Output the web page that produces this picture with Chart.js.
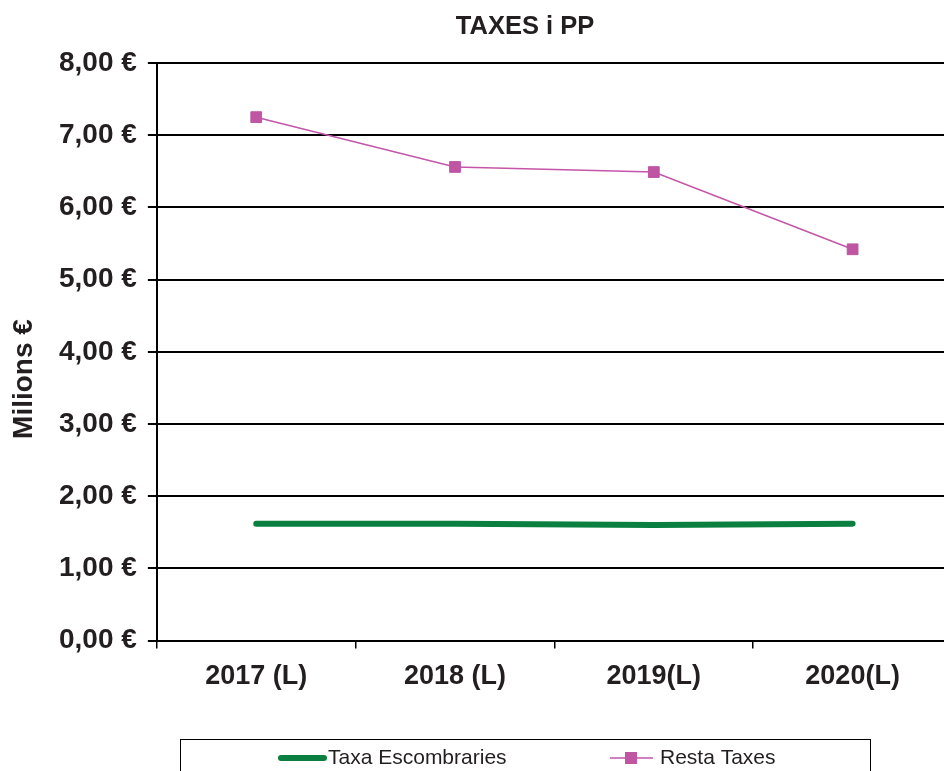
<!DOCTYPE html>
<html>
<head>
<meta charset="utf-8">
<script src="https://cdn.jsdelivr.net/npm/chart.js@4"></script>
<style>
html,body{margin:0;padding:0;overflow:hidden;background:#fff;}
#wrap{position:absolute;left:0;top:0;width:962px;height:771px;}
</style>
</head>
<body>
<div id="wrap"><canvas id="c"></canvas></div>
<script>
const categories = ['2017 (L)', '2018 (L)', '2019(L)', '2020(L)'];
const taxaEscombraries = [1.62, 1.62, 1.60, 1.62];
const restaTaxes = [7.25, 6.56, 6.49, 5.42];
const yTicks = [0, 1, 2, 3, 4, 5, 6, 7, 8];
const chartTitle = 'TAXES i PP';
const yTitle = 'Milions €';

const FONT = '"Liberation Sans", Arial, sans-serif';

const titleLegendPlugin = {
  id: 'titleLegend',
  afterDraw(chart) {
    const ctx = chart.ctx;
    ctx.save();
    // title
    ctx.fillStyle = '#231f20';
    ctx.font = 'bold 25.5px ' + FONT;
    ctx.textAlign = 'center';
    ctx.textBaseline = 'middle';
    ctx.fillText(chartTitle, 525, 27);
    // y axis title
    ctx.save();
    ctx.translate(24, 379);
    ctx.rotate(-Math.PI / 2);
    ctx.font = 'bold 28px ' + FONT;
    ctx.fillText(yTitle, 0, 0);
    ctx.restore();
    // legend box
    const bx = 180.5, by = 739.5, bw = 690, bh = 60;
    ctx.strokeStyle = '#000';
    ctx.lineWidth = 1;
    ctx.strokeRect(bx, by, bw, bh);
    ctx.font = '21px ' + FONT;
    ctx.textAlign = 'left';
    ctx.fillStyle = '#231f20';
    const ly = 758;
    // item 1
    const ds0 = chart.data.datasets[0];
    ctx.strokeStyle = ds0.borderColor;
    ctx.lineWidth = 6;
    ctx.lineCap = 'round';
    ctx.beginPath(); ctx.moveTo(281, ly); ctx.lineTo(324, ly); ctx.stroke();
    ctx.fillText(ds0.label, 328, ly);
    // item 2
    const ds1 = chart.data.datasets[1];
    ctx.strokeStyle = ds1.borderColor;
    ctx.lineWidth = 1.5;
    ctx.lineCap = 'butt';
    ctx.beginPath(); ctx.moveTo(610, ly); ctx.lineTo(653, ly); ctx.stroke();
    ctx.fillStyle = ds1.pointBackgroundColor;
    ctx.fillRect(625, ly - 6, 12, 12);
    ctx.fillStyle = '#231f20';
    ctx.fillText(ds1.label, 660, ly);
    ctx.restore();
  }
};

new Chart(document.getElementById('c'), {
  type: 'line',
  data: {
    labels: categories,
    datasets: [
      {
        label: 'Taxa Escombraries',
        data: taxaEscombraries,
        borderColor: '#0a7f3f',
        backgroundColor: '#0a7f3f',
        borderWidth: 6,
        pointRadius: 0,
        borderCapStyle: 'round',
        tension: 0
      },
      {
        label: 'Resta Taxes',
        data: restaTaxes,
        borderColor: '#c455a8',
        backgroundColor: '#c455a8',
        pointBackgroundColor: '#bf55a3',
        pointBorderColor: '#bf55a3',
        borderWidth: 1.5,
        pointBorderWidth: 1,
        pointStyle: 'rect',
        pointRadius: 7.6,
        tension: 0
      }
    ]
  },
  options: {
    responsive: true,
    maintainAspectRatio: false,
    animation: false,
    layout: { padding: { top: 63, bottom: 66, left: 48, right: 10 } },
    plugins: {
      legend: { display: false },
      title: { display: false },
      tooltip: { enabled: false }
    },
    scales: {
      x: {
        offset: true,
        grid: { offset: true, drawOnChartArea: false, drawTicks: true, tickLength: 8, color: '#000', lineWidth: 1.5 },
        border: { display: true, color: '#000', width: 2 },
        ticks: { color: '#231f20', font: { family: FONT, size: 27, weight: 'bold' }, padding: 12 }
      },
      y: {
        min: 0, max: 8,
        afterBuildTicks(axis) { axis.ticks = yTicks.map(v => ({ value: v })); },
        grid: { color: '#000', lineWidth: 2, drawTicks: true, tickLength: 9 },
        border: { display: true, color: '#000', width: 2 },
        ticks: {
          color: '#231f20',
          font: { family: FONT, size: 28, weight: 'bold' },
          padding: 11,
          callback: v => v.toFixed(2).replace('.', ',') + ' €'
        }
      }
    }
  },
  plugins: [titleLegendPlugin]
});
</script>
</body>
</html>
